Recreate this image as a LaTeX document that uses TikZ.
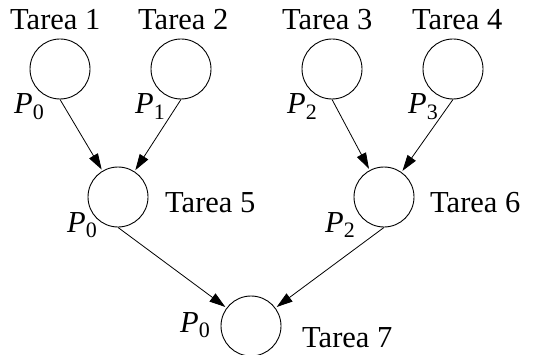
\documentclass[tikz,border=0pt]{standalone}
\usepackage{fontspec}
\setmainfont{Liberation Serif}
\usetikzlibrary{arrows.meta}
\newcommand\procl[1]{\textit{P}\raisebox{-0.17em}{\fontsize{22}{22}\selectfont #1}}
\begin{document}
\begin{tikzpicture}[x=1pt,y=-1pt,
  task/.style={circle,draw,line width=0.9pt,minimum size=60pt,inner sep=0pt},
  lbl/.style={anchor=base west,inner sep=0pt,font=\fontsize{30.5}{36}\selectfont},
  conn/.style={line width=0.8pt,-{Triangle[length=16pt,width=10pt]},shorten >=1.5pt}]
\useasboundingbox (0,0) rectangle (534,355);
% tasks
\node[task] (t1) at (60,69) {};
\node[task] (t2) at (181,69) {};
\node[task] (t3) at (332,69) {};
\node[task] (t4) at (453,69) {};
\node[task] (t5) at (118,197) {};
\node[task] (t6) at (384,197) {};
\node[task] (t7) at (251,326) {};
% task names
\node[lbl] (n1) at (10,30) {Tarea 1};
\node[lbl] (n2) at (138,30) {Tarea 2};
\node[lbl] (n3) at (282,30) {Tarea 3};
\node[lbl] (n4) at (412,30) {Tarea 4};
\node[lbl] (n5) at (165,212) {Tarea 5};
\node[lbl] (n6) at (430,212) {Tarea 6};
\node[lbl] (n7) at (302,347) {Tarea 7};
% processors
\node[lbl] (p1) at (14,114) {\procl{0}};
\node[lbl] (p2) at (135,114) {\procl{1}};
\node[lbl] (p3) at (287,114) {\procl{2}};
\node[lbl] (p4) at (408,114) {\procl{3}};
\node[lbl] (p5) at (67,232) {\procl{0}};
\node[lbl] (p6) at (325,232) {\procl{2}};
\node[lbl] (p7) at (180,332) {\procl{0}};
% connectors
\draw[conn] (t1.south) -- (t5);
\draw[conn] (t2.south) -- (t5);
\draw[conn] (t3.south) -- (t6);
\draw[conn] (t4.south) -- (t6);
\draw[conn] (t5.south) -- (t7);
\draw[conn] (t6.south) -- (t7);
\end{tikzpicture}
\end{document}
